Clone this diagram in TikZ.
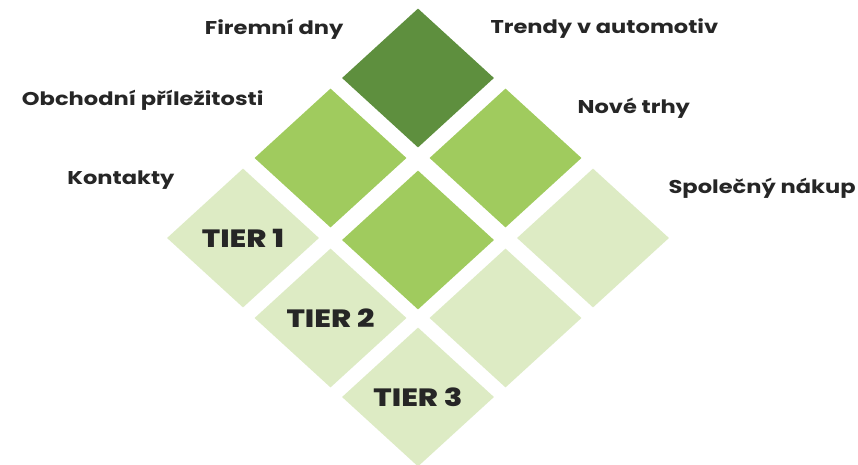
\documentclass[tikz,border=0pt]{standalone}
\usepackage{fontspec}
\setmainfont{Poppins}[UprightFont={* Bold}, BoldFont={* ExtraBold}, FakeStretch=1.22]
\usetikzlibrary{shapes.geometric, positioning}

\definecolor{darkgreen}{RGB}{94,143,62}
\definecolor{midgreen}{RGB}{160,203,94}
\definecolor{lightgreen}{RGB}{221,235,196}

\begin{document}
\begin{tikzpicture}[
        x=1pt, y=-1pt,
        tile/.style={diamond, minimum width=152pt, minimum height=139pt, inner sep=0pt,
            font=\bfseries\fontsize{25}{30}\selectfont, text=black!85},
        lefttag/.style={anchor=base east, font=\fontsize{18.5}{22}\selectfont, text=black!85},
        righttag/.style={anchor=base west, font=\fontsize{18.5}{22}\selectfont, text=black!85}
        ]

        \useasboundingbox (0,0) rectangle (858,464);

        % Tiles
        \node[tile, fill=darkgreen] (top) at (418,78) {};

        \node[tile, fill=midgreen] (left2) at (330.5,158) {};
        \node[tile, fill=midgreen] (right2) at (505.5,158) {};

        \node[tile, fill=lightgreen] (tier1) at (243,238) {TIER 1};
        \node[tile, fill=midgreen] (middle) at (418,240) {};
        \node[tile, fill=lightgreen] (right3) at (593,238) {};

        \node[tile, fill=lightgreen] (tier2) at (330.5,318) {TIER 2};
        \node[tile, fill=lightgreen] (right4) at (505.5,318) {};

        \node[tile, fill=lightgreen] (tier3) at (418,397) {TIER 3};

        % Labels
        \node[lefttag] (firemni) at (347,34) {Firemní dny};
        \node[lefttag] (obchodni) at (267,105) {Obchodní příležitosti};
        \node[lefttag] (kontakty) at (178,184) {Kontakty};

        \node[righttag] (trendy) at (487,33) {Trendy v automotiv};
        \node[righttag] (trhy) at (574,113) {Nové trhy};
        \node[righttag] (nakup) at (665,193) {Společný nákup};
    \end{tikzpicture}
\end{document}
